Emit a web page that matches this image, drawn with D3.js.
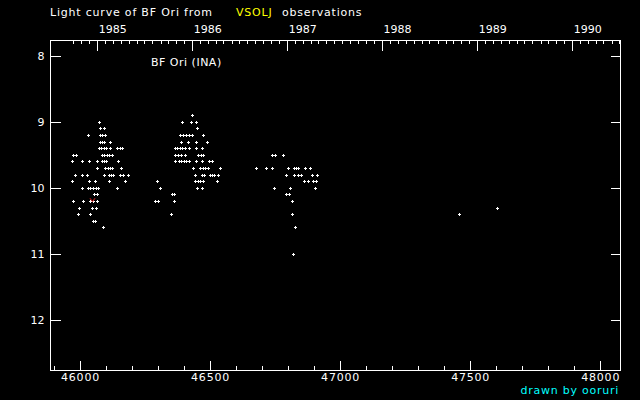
<!DOCTYPE html>
<html>
<head>
<meta charset="utf-8">
<script src="https://cdn.jsdelivr.net/npm/d3@7"></script>
<style>
    html, body { margin: 0; padding: 0; background: #000; }
    svg { display: block; }
    text { font-family: "DejaVu Sans", sans-serif; font-size: 11px; fill: #fff; }
    .axis line { stroke: #fff; shape-rendering: crispEdges; }
    .axis path { display: none; }
</style>
</head>
<body>
<div id="chart"></div>
<script>
(function(){

    "use strict";

    //-> observations, JD - 2400000 and visual magnitude
    var obsJD = [
        46076,
        46078, 46094,
        46032, 46078, 46087, 46099,
        46078, 46088, 46096, 46117,
        46074, 46083, 46094, 46101, 46117, 46144, 46155, 46164,
        45974, 45986, 46086, 46096, 46105, 46115, 46124,
        45971, 46009, 46037, 46068, 46086, 46094, 46103, 46147,
        46068, 46099, 46109, 46119, 46124, 46160,
        45981, 46009, 46027, 46094, 46113, 46122, 46129, 46155, 46167, 46186,
        45971, 46036, 46058, 46115, 46174,
        46010, 46032, 46042, 46052, 46063, 46071, 46143,
        46055, 46067,
        45974, 46014, 46042, 46050, 46067,
        45999, 46047, 46063,
        45994, 46042,
        46051, 46060,
        46090,
        // second season
        46432,
        46394, 46428, 46447,
        46451,
        46388, 46399, 46409, 46420, 46431, 46476,
        46390, 46417, 46447, 46490,
        46367, 46376, 46386, 46395, 46405, 46422, 46449, 46470,
        46369, 46379, 46390, 46406, 46456, 46467, 46476,
        46367, 46381, 46390, 46400, 46411, 46422, 46447, 46470, 46496, 46508,
        46436, 46464, 46473, 46482, 46495, 46540,
        46444, 46470, 46479, 46500, 46509, 46518, 46532,
        46297, 46445, 46454, 46463, 46473, 46528,
        46310, 46451, 46470,
        46354, 46365,
        46292, 46303, 46362,
        46351,
        // third season
        46740, 46751, 46782,
        46678, 46717, 46740, 46801, 46823, 46831, 46840, 46867, 46886,
        46794, 46826, 46840, 46851, 46894, 46913,
        46863, 46878, 46897, 46909,
        46747, 46809, 46905,
        46794, 46805,
        46817,
        46817,
        46828,
        46821,
        // late points
        47459, 47605
    ];
    var obsMag = [
        9.0,
        9.1, 9.1,
        9.2, 9.2, 9.2, 9.2,
        9.3, 9.3, 9.3, 9.3,
        9.4, 9.4, 9.4, 9.4, 9.4, 9.4, 9.4, 9.4,
        9.5, 9.5, 9.5, 9.5, 9.5, 9.5, 9.5,
        9.6, 9.6, 9.6, 9.6, 9.6, 9.6, 9.6, 9.6,
        9.7, 9.7, 9.7, 9.7, 9.7, 9.7,
        9.8, 9.8, 9.8, 9.8, 9.8, 9.8, 9.8, 9.8, 9.8, 9.8,
        9.9, 9.9, 9.9, 9.9, 9.9,
        10.0, 10.0, 10.0, 10.0, 10.0, 10.0, 10.0,
        10.1, 10.1,
        10.2, 10.2, 10.2, 10.2, 10.2,
        10.3, 10.3, 10.3,
        10.4, 10.4,
        10.5, 10.5,
        10.6,
        // second season
        8.9,
        9.0, 9.0, 9.0,
        9.1,
        9.2, 9.2, 9.2, 9.2, 9.2, 9.2,
        9.3, 9.3, 9.3, 9.3,
        9.4, 9.4, 9.4, 9.4, 9.4, 9.4, 9.4, 9.4,
        9.5, 9.5, 9.5, 9.5, 9.5, 9.5, 9.5,
        9.6, 9.6, 9.6, 9.6, 9.6, 9.6, 9.6, 9.6, 9.6, 9.6,
        9.7, 9.7, 9.7, 9.7, 9.7, 9.7,
        9.8, 9.8, 9.8, 9.8, 9.8, 9.8, 9.8,
        9.9, 9.9, 9.9, 9.9, 9.9, 9.9,
        10.0, 10.0, 10.0,
        10.1, 10.1,
        10.2, 10.2, 10.2,
        10.4,
        // third season
        9.5, 9.5, 9.5,
        9.7, 9.7, 9.7, 9.7, 9.7, 9.7, 9.7, 9.7, 9.7,
        9.8, 9.8, 9.8, 9.8, 9.8, 9.8,
        9.9, 9.9, 9.9, 9.9,
        10.0, 10.0, 10.0,
        10.1, 10.1,
        10.2,
        10.4,
        10.6,
        11.0,
        // late points
        10.4, 10.3
    ];

    //-> the single red mark
    var markJD = [46048];
    var markMag = [10.18];

    //-> tick labels
    var magTicks = [8, 9, 10, 11, 12];
    var jdTicks = [46000, 46500, 47000, 47500, 48000];
    var years = [1985, 1986, 1987, 1988, 1989, 1990];

    var width = 640,
        height = 400,
        box = {left: 50.5, right: 620.5, top: 40.5, bottom: 370.5};

    var x = d3.scaleLinear().domain([45886.5, 48078]).range([box.left, box.right]),
        y = d3.scaleLinear().domain([7.76, 12.76]).range([box.top, box.bottom]);

    //-> calendar date to JD - 2400000
    var toJD = function(date) { return date.getTime() / 86400000 + 40587.5; };

    var yearJD = years.map(function(yr) { return toJD(new Date(Date.UTC(yr, 0, 1))); });
    var monthJD = d3.utcMonth.range(new Date(Date.UTC(1984, 9, 1)), new Date(Date.UTC(1990, 8, 1)))
        .filter(function(d) { return d.getUTCMonth() !== 0; })
        .map(toJD)
        .filter(function(j) { return j > x.domain()[0] && j < x.domain()[1]; });
    var minorJD = d3.range(45900, 48001, 100).filter(function(j) { return j % 500 !== 0; });

    var svg = d3.select("#chart").append("svg")
        .attr("width", width)
        .attr("height", height)
        .style("background", "#000");

    //-> frame
    svg.append("rect")
        .attr("x", box.left)
        .attr("y", box.top)
        .attr("width", box.right - box.left)
        .attr("height", box.bottom - box.top)
        .attr("fill", "none")
        .attr("stroke", "#fff")
        .attr("shape-rendering", "crispEdges");

    //-> bottom axis, JD
    svg.append("g")
        .attr("class", "axis")
        .attr("transform", "translate(0," + box.bottom + ")")
        .call(d3.axisBottom(x).tickValues(minorJD).tickSize(-5).tickFormat(""));
    var bottomAxis = svg.append("g")
        .attr("class", "axis")
        .attr("transform", "translate(0," + box.bottom + ")")
        .call(d3.axisBottom(x).tickValues(jdTicks).tickSize(-10).tickPadding(3).tickFormat(d3.format("d")));
    bottomAxis.selectAll("text").style("letter-spacing", "0.8px");

    //-> top axis, years and months
    svg.append("g")
        .attr("class", "axis")
        .attr("transform", "translate(0," + box.top + ")")
        .call(d3.axisTop(x).tickValues(monthJD).tickSize(-3).tickFormat(""));
    var topAxis = svg.append("g")
        .attr("class", "axis")
        .attr("transform", "translate(0," + box.top + ")")
        .call(d3.axisTop(x).tickValues(yearJD).tickSize(-10).tickPadding(8)
            .tickFormat(function(d, i) { return years[i]; }));
    topAxis.selectAll("text").attr("text-anchor", "start").attr("x", 1);

    //-> left and right axes, magnitude
    svg.append("g")
        .attr("class", "axis")
        .attr("transform", "translate(" + box.left + ",0)")
        .call(d3.axisLeft(y).tickValues(magTicks).tickSize(-10).tickPadding(6).tickFormat(d3.format("d")));
    svg.append("g")
        .attr("class", "axis")
        .attr("transform", "translate(" + box.right + ",0)")
        .call(d3.axisRight(y).tickValues(magTicks).tickSize(-10).tickFormat(""));

    svg.selectAll(".axis text").style("fill", "#fff").style("font-size", "11px");

    //-> observations as small crosses
    var cross = function(j, m) {
        var cx = Math.floor(x(j)) + 0.5,
            cy = Math.floor(y(m)) + 0.5;
        return "M" + (cx - 1.5) + "," + cy + "H" + (cx + 1.5) +
            "M" + cx + "," + (cy - 1.5) + "V" + (cy + 1.5);
    };
    svg.append("g").selectAll("path")
        .data(d3.range(obsJD.length))
        .enter().append("path")
        .attr("d", function(i) { return cross(obsJD[i], obsMag[i]); })
        .attr("stroke", "#fff")
        .attr("stroke-width", 1)
        .attr("fill", "none")
        .attr("shape-rendering", "crispEdges");

    svg.append("g").selectAll("path")
        .data(d3.range(markJD.length))
        .enter().append("path")
        .attr("d", function(i) {
            var cx = x(markJD[i]), cy = y(markMag[i]);
            return "M" + (cx - 2.5) + "," + (cy - 2) + "L" + cx + "," + (cy + 1.5) + "L" + (cx + 2.5) + "," + (cy - 2);
        })
        .attr("stroke", "#e02020")
        .attr("stroke-width", 1)
        .attr("fill", "none");

    //-> texts
    var title = svg.append("text").attr("y", 16).style("letter-spacing", "0.8px");
    title.append("tspan").attr("x", 50).text("Light curve of BF Ori from");
    title.append("tspan").attr("x", 236).style("fill", "#ffff00").text("VSOLJ");
    title.append("tspan").attr("x", 282).text("observations");

    svg.append("text")
        .attr("x", 151)
        .attr("y", 66)
        .style("letter-spacing", "0.5px")
        .text("BF Ori (INA)");

    svg.append("text")
        .attr("x", 619)
        .attr("y", 394)
        .attr("text-anchor", "end")
        .style("letter-spacing", "0.75px")
        .style("fill", "#00ffff")
        .text("drawn by ooruri");

})();
</script>
</body>
</html>
